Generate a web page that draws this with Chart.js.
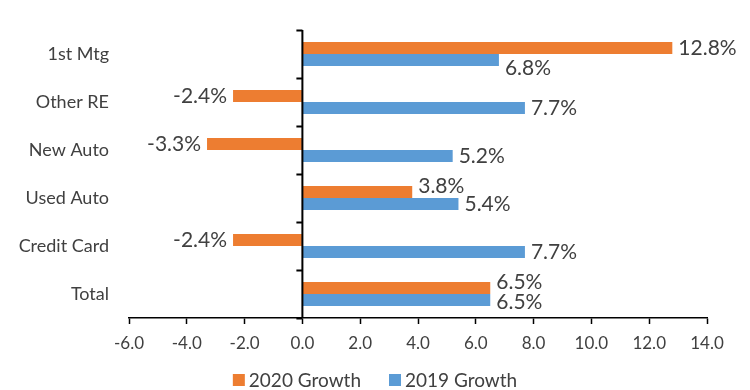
<!DOCTYPE html>
<html lang="en">
<head>
<meta charset="UTF-8">
<title>Growth by loan type</title>
<style>
  html, body { margin: 0; padding: 0; background: #fff; }
  #wrap { width: 750px; height: 390px; }
</style>
<script src="https://cdn.jsdelivr.net/npm/chart.js"></script>
</head>
<body>
<div id="wrap"><canvas id="chartCanvas" width="750" height="390"></canvas></div>
<script>
const categories = ['1st Mtg', 'Other RE', 'New Auto', 'Used Auto', 'Credit Card', 'Total'];
const growth2020 = [12.8, -2.4, -3.3, 3.8, -2.4, 6.5];
const growth2019 = [6.8, 7.7, 5.2, 5.4, 7.7, 6.5];
const seriesNames = ['2020 Growth', '2019 Growth'];
const xMin = -6, xMax = 14, xStep = 2;

const textColor = '#404040';
Chart.defaults.font.family = 'Lato, "Open Sans", sans-serif';
Chart.defaults.color = textColor;

// vertical axis at zero with small ticks between categories
const zeroAxis = {
  id: 'zeroAxis',
  afterDatasetsDraw(chart) {
    const ctx = chart.ctx, area = chart.chartArea;
    const x0 = chart.scales.x.getPixelForValue(0);
    const n = chart.data.labels.length;
    const step = (area.bottom - area.top) / n;
    ctx.save();
    ctx.strokeStyle = '#000';
    ctx.lineWidth = 2;
    ctx.beginPath();
    ctx.moveTo(x0, area.top);
    ctx.lineTo(x0, area.bottom);
    for (let k = 0; k <= n; k++) {
      const y = Math.round(area.top + k * step) + 0.5;
      ctx.moveTo(x0 - 6, y);
      ctx.lineTo(x0, y);
    }
    ctx.stroke();
    ctx.restore();
  }
};

// value labels, nudged off the neighbouring bar / label like Excel does
const valueLabels = {
  id: 'valueLabels',
  afterDatasetsDraw(chart) {
    const ctx = chart.ctx;
    const h = 16;
    ctx.save();
    ctx.font = '21px Lato, "Open Sans", sans-serif';
    ctx.fillStyle = textColor;
    ctx.textBaseline = 'middle';
    ctx.textAlign = 'left';
    const m0 = chart.getDatasetMeta(0), m1 = chart.getDatasetMeta(1);
    chart.data.labels.forEach((c, i) => {
      const bars = [m0.data[i], m1.data[i]];
      const vals = [chart.data.datasets[0].data[i], chart.data.datasets[1].data[i]];
      const boxes = bars.map((b, k) => {
        const txt = vals[k].toFixed(1) + '%';
        const w = ctx.measureText(txt).width;
        const left = vals[k] >= 0 ? b.x + 6 : b.x - 6 - w;
        return { txt, w, left, y: b.y };
      });
      boxes.forEach((bx, k) => {
        const o = bars[1 - k];
        const ox0 = Math.min(o.base, o.x), ox1 = Math.max(o.base, o.x);
        const oy0 = o.y - o.height / 2, oy1 = o.y + o.height / 2;
        const hitX = bx.left < ox1 && bx.left + bx.w > ox0;
        const hitY = bx.y - h / 2 < oy1 && bx.y + h / 2 > oy0;
        if (hitX && hitY) bx.y += k === 0 ? -6 : 8;
      });
      const a = boxes[0], b = boxes[1];
      const overlapX = a.left < b.left + b.w && b.left < a.left + a.w;
      const sep = b.y - a.y;
      if (overlapX && sep < 20) {
        const need = 20 - sep;
        a.y -= need * 0.75;
        b.y += need * 0.25;
      }
      boxes.forEach(bx => ctx.fillText(bx.txt, bx.left, bx.y));
    });
    ctx.restore();
  }
};

// legend centred under the chart
const bottomLegend = {
  id: 'bottomLegend',
  afterDraw(chart) {
    const ctx = chart.ctx;
    const y = 380, box = 12, gapText = 4, gapItem = 28;
    ctx.save();
    ctx.font = '19px Lato, "Open Sans", sans-serif';
    ctx.textBaseline = 'middle';
    ctx.textAlign = 'left';
    const items = chart.data.datasets.map(ds => ({
      label: ds.label, color: ds.backgroundColor, w: ctx.measureText(ds.label).width
    }));
    let total = 0;
    items.forEach((it, k) => { total += box + gapText + it.w + (k ? gapItem : 0); });
    let x = (chart.width - total) / 2;
    items.forEach(it => {
      ctx.fillStyle = it.color;
      ctx.fillRect(x, y - box / 2, box, box);
      ctx.fillStyle = textColor;
      ctx.fillText(it.label, x + box + gapText, y + 1);
      x += box + gapText + it.w + gapItem;
    });
    ctx.restore();
  }
};

new Chart(document.getElementById('chartCanvas'), {
  type: 'bar',
  data: {
    labels: categories,
    datasets: [
      { label: seriesNames[0], data: growth2020, backgroundColor: '#ED7D31' },
      { label: seriesNames[1], data: growth2019, backgroundColor: '#5B9BD5' }
    ]
  },
  options: {
    indexAxis: 'y',
    responsive: false,
    animation: false,
    categoryPercentage: 0.5,
    barPercentage: 1.0,
    layout: { padding: { top: 30, right: 43, left: 0, bottom: 0 } },
    plugins: {
      legend: { display: false },
      tooltip: { enabled: false }
    },
    scales: {
      x: {
        min: xMin,
        max: xMax,
        ticks: {
          stepSize: xStep,
          callback: v => v.toFixed(1),
          font: { size: 17 },
          color: textColor,
          padding: 9,
          maxRotation: 0
        },
        grid: { drawOnChartArea: false, tickLength: 6, tickColor: '#000', tickWidth: 1.5 },
        border: { color: '#000', width: 1.5 },
        afterFit: s => { s.height = 72; }
      },
      y: {
        ticks: { font: { size: 18 }, color: textColor, padding: 12 },
        grid: { display: false },
        border: { display: false },
        afterFit: s => { s.width = 129; }
      }
    }
  },
  plugins: [zeroAxis, valueLabels, bottomLegend]
});
</script>
</body>
</html>
